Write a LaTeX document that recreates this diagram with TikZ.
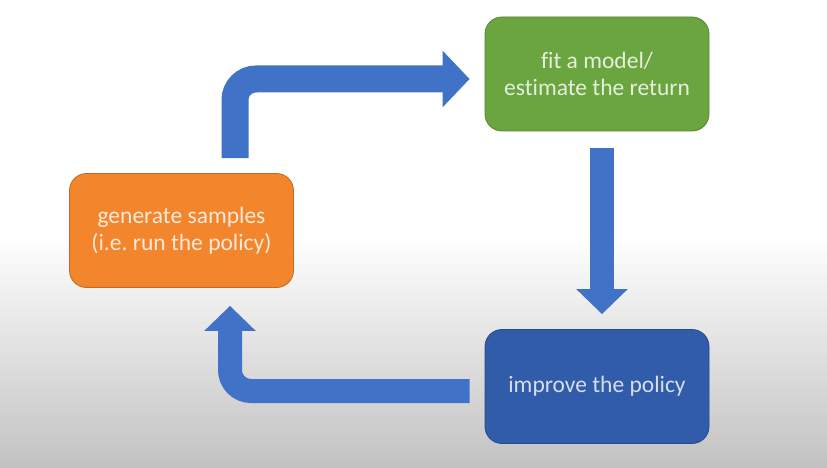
\documentclass[tikz,border=0pt]{standalone}
\usepackage{fontspec}
\setmainfont[Ligatures=NoCommon]{Carlito}
\frenchspacing
\usetikzlibrary{arrows.meta,calc}
\definecolor{sampleorange}{RGB}{243,133,45}
\definecolor{fitgreen}{RGB}{106,165,63}
\definecolor{policyblue}{RGB}{48,92,170}
\definecolor{flowblue}{RGB}{64,114,200}
\tikzset{
  stage/.style={rounded corners=17pt, minimum width=224pt, minimum height=114pt,
    align=center, inner sep=0pt, font=\fontsize{23.5}{27}\selectfont, draw=#1!80!black, line width=0.8pt},
  flow/.style={draw=flowblue, line width=#1, rounded corners=21pt, line join=miter},
  flowhead/.style args={#1/#2}{-{Triangle[width=#1,length=#2,round=false,line join=miter]}}
}
\begin{document}
\begin{tikzpicture}[x=1pt,y=-1pt]
  \useasboundingbox (0,0) rectangle (827,468);
  % backdrop: white above, soft grey fade towards the bottom
  \fill[white] (0,0) rectangle (827,236);
  \shade[top color=white, bottom color=black!24] (0,235) rectangle (827,468);

  % the three stages
  \node[stage=sampleorange, fill=sampleorange, text=white!82!sampleorange] (gen) at (181.5,230.5)
    {generate samples\\(i.e. run the policy)};
  \node[stage=fitgreen, fill=fitgreen, text=white!82!fitgreen] (fit) at (597,74)
    {fit a model/\\estimate the return};
  \node[stage=policyblue, fill=policyblue, text=white!80!policyblue] (pol) at (597,386.5)
    {improve the policy};

  % block arrows between the stages
  \draw[flow=27pt, flowhead=55pt/27pt]
    ([xshift=53.5pt,yshift=15pt]gen.north) |- ([xshift=-15pt,yshift=-5pt]fit.west);
  \draw[flow=24pt, flowhead=50pt/25pt]
    ([xshift=5pt,yshift=-17pt]fit.south) -- ([xshift=5pt,yshift=15pt]pol.north);
  \draw[flow=24pt, flowhead=50pt/25pt]
    ([xshift=-15pt,yshift=-4.5pt]pol.west) -| ([xshift=48.5pt,yshift=-18pt]gen.south);
\end{tikzpicture}
\end{document}
